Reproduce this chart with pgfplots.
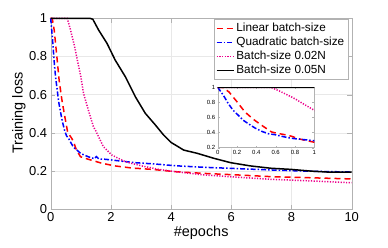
\documentclass[border=0pt]{standalone}
\usepackage{fontspec}
\setmainfont{Liberation Sans}
\usepackage{pgfplots}
\usepackage{pgfplotstable}
\pgfplotsset{compat=1.18}

\pgfplotstableread{
x y
0 1
0.059 0.894
0.11 0.783
0.16 0.695
0.213 0.629
0.265 0.563
0.316 0.518
0.386 0.461
0.455 0.417
0.524 0.385
0.593 0.372
0.662 0.351
0.731 0.332
0.80 0.319
0.90 0.306
1.0 0.292
1.25 0.275
1.45 0.265
1.52 0.276
1.6 0.263
1.81 0.262
2.25 0.254
2.81 0.244
3.48 0.237
4.14 0.228
5.09 0.220
6.2 0.213
7.31 0.206
8.42 0.200
10 0.195
}\blue

\pgfplotstableread{
x y
0 1
0.05 1
0.117 0.938
0.196 0.814
0.282 0.673
0.369 0.576
0.455 0.497
0.558 0.408
0.61 0.392
0.697 0.372
0.766 0.351
0.835 0.319
0.904 0.298
0.99 0.275
1.25 0.262
1.7 0.241
2.14 0.227
2.7 0.216
3.37 0.209
4.14 0.197
5.09 0.188
6.2 0.180
7.31 0.171
8.42 0.166
10 0.159
}\red

\pgfplotstableread{
x y
0 1
0.55 1
0.64 0.95
0.766 0.871
0.81 0.84
0.9 0.77
1.0 0.695
1.09 0.607
1.25 0.52
1.42 0.432
1.5 0.41
1.59 0.38
1.75 0.328
2.03 0.284
2.48 0.249
3.03 0.227
3.59 0.209
4.14 0.197
5.09 0.180
6.2 0.168
7.31 0.157
8.42 0.150
10 0.139
}\magenta

\pgfplotstableread{
x y
0 1
1.3 1
1.4 0.995
1.59 0.939
1.87 0.869
2.14 0.782
2.48 0.694
2.81 0.59
3.14 0.503
3.48 0.441
3.75 0.389
4.0 0.35
4.42 0.31
4.87 0.293
5.42 0.267
5.98 0.244
6.64 0.227
7.31 0.215
7.98 0.209
8.64 0.200
9.31 0.194
10 0.194
}\black

\tikzset{
  redline/.style={color=red, line width=1.5bp, dash pattern=on 6bp off 4bp},
  blueline/.style={color=blue, line width=1.5bp, dash pattern=on 5bp off 2bp on 1.5bp off 2bp},
  magline/.style={color=magenta, line width=1.5bp, dash pattern=on 1.2bp off 1.5bp},
  blackline/.style={color=black, line width=1.5bp},
}

\begin{document}
\begin{tikzpicture}
\path[use as bounding box] (0,0) rectangle (388bp,248bp);
\begin{axis}[
  at={(50.7bp,38.7bp)}, anchor=south west, scale only axis,
  width=301bp, height=191bp,
  xmin=0, xmax=10, ymin=0, ymax=1,
  xtick={0,2,...,10}, ytick={0,0.2,...,1},
  grid=major, grid style={gray!18},
  axis line style={gray!60}, tick style={gray!60}, tick align=inside,
  clip=false,
  xlabel={\#epochs}, ylabel={Training loss},
  xlabel style={at={(axis description cs:0.5,-0.124)}, anchor=center},
  ylabel style={at={(axis description cs:-0.106,0.504)}, anchor=center},
  label style={font=\fontsize{14.5}{16}\selectfont},
  ticklabel style={font=\fontsize{13}{15}\selectfont},
  /pgf/number format/assume math mode=true,
  legend style={at={(0.989,0.995)}, anchor=north east, draw=gray!60,
    font=\fontsize{11.8}{13}\selectfont, inner sep=2bp, row sep=0bp},
  legend image post style={line width=1.5bp},
  legend cell align=left,
]
\addplot[redline] table {\red};
\addplot[blueline] table {\blue};
\addplot[magline] table {\magenta};
\addplot[blackline] table {\black};
\legend{Linear batch-size, Quadratic batch-size, Batch-size 0.02N, Batch-size 0.05N}
\end{axis}
\begin{axis}[
  at={(217.7bp,100.3bp)}, anchor=south west, scale only axis,
  width=96.6bp, height=60.4bp,
  xmin=0, xmax=1, ymin=0.2, ymax=1,
  xtick={0,0.2,...,1}, ytick={0.2,0.4,...,1},
  axis background/.style={fill=white},
  axis line style={gray!60}, tick style={gray!60}, tick align=inside,
  major tick length=2bp,
  ticklabel style={font=\fontsize{6}{7}\selectfont},
  xticklabel style={yshift=1bp},
  yticklabel style={xshift=1bp},
  /pgf/number format/assume math mode=true,
]
\addplot[redline] table {\red};
\addplot[blueline] table {\blue};
\addplot[magline] table {\magenta};
\addplot[blackline] table {\black};
\end{axis}
\end{tikzpicture}
\end{document}
